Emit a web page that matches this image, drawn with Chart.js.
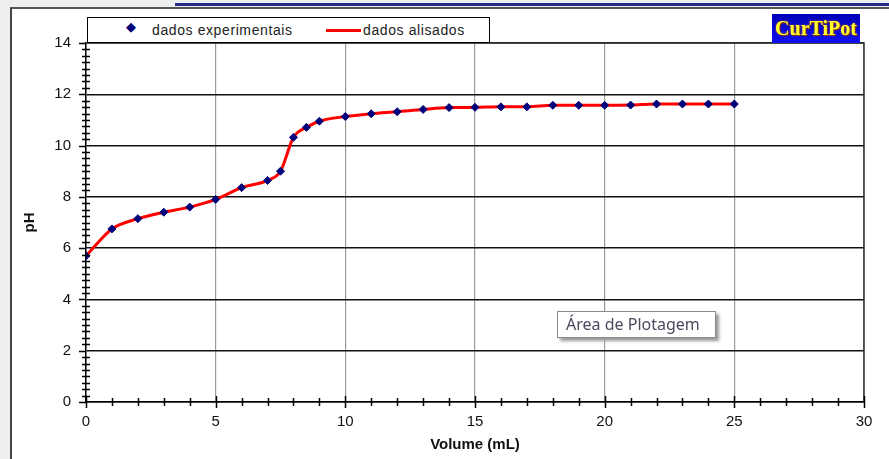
<!DOCTYPE html>
<html lang="pt">
<head>
    <meta charset="UTF-8">
    <title>Curva de titulação</title>
    <script src="https://cdn.jsdelivr.net/npm/chart.js@4.4.0/dist/chart.umd.min.js"></script>
    <style>
        body{
            margin: 0;
            background-color: #eef0f0;
            font-family: "Liberation Sans", Arial, sans-serif;
        }
        .quadro{
            position: relative;
            width: 889px;
            height: 459px;
            overflow: hidden;
        }
        .barra{
            position: absolute;
            left: 175px;
            top: 3px;
            width: 714px;
            height: 3px;
            background-color: #2a2a88;
        }
        .moldura{
            position: absolute;
            left: 10px;
            top: 7px;
            width: 879px;
            height: 452px;
            background-color: #fff;
            border-left: 2px solid #444;
            border-top: 2px solid #555;
            box-sizing: border-box;
        }
        #grafico{
            position: absolute;
            left: 0;
            top: 0;
        }
        .legenda{
            position: absolute;
            left: 87px;
            top: 17px;
            width: 403px;
            height: 26px;
            border: 1px solid #000;
            box-sizing: border-box;
            background: #fff;
            font-size: 14px;
            letter-spacing: 0.6px;
            color: #222;
        }
        .legenda span{
            position: absolute;
            top: 4px;
            white-space: nowrap;
        }
        .logo{
            position: absolute;
            left: 772px;
            top: 14px;
            width: 88px;
            height: 29px;
            background: linear-gradient(#0000b8, #1010f0);
            color: #ffff30;
            font-family: "Liberation Serif", serif;
            font-weight: bold;
            font-size: 20px;
            line-height: 29px;
            text-align: center;
            text-shadow: 0 0 2px #d06000, 1px 1px 0 #803000;
        }
        .dica{
            position: absolute;
            left: 557px;
            top: 311px;
            width: 159px;
            height: 27px;
            border: 1px solid #8a8a8a;
            box-sizing: border-box;
            background: #fff;
            box-shadow: 3px 3px 3px #999;
            font-family: "Noto Sans", sans-serif;
            font-size: 16px;
            line-height: 24px;
            padding-left: 8px;
            color: #4a4a5e;
        }
    </style>
</head>
<body>
<div class="quadro">
    <div class="barra"></div>
    <div class="moldura"></div>
    <canvas id="grafico" width="889" height="459"></canvas>
    <div class="legenda" id="legenda"></div>
    <div class="logo">CurTiPot</div>
    <div class="dica">Área de Plotagem</div>
</div>
<script>
    // volume de titulante (mL) e pH medido
    var volumes = [0, 1, 2, 3, 4, 5, 6, 7, 7.5, 8, 8.5, 9, 10, 11, 12, 13, 14, 15, 16, 17, 18, 19, 20, 21, 22, 23, 24, 25];
    var phExperimental = [5.70, 6.75, 7.15, 7.40, 7.60, 7.90, 8.36, 8.64, 9.00, 10.32, 10.71, 10.95, 11.13, 11.24, 11.32, 11.41, 11.48, 11.49, 11.51, 11.51, 11.57, 11.57, 11.57, 11.58, 11.62, 11.62, 11.62, 11.62];
    var phAlisado = [5.70, 6.75, 7.15, 7.40, 7.60, 7.90, 8.36, 8.64, 9.00, 10.32, 10.71, 10.95, 11.13, 11.24, 11.32, 11.41, 11.48, 11.49, 11.51, 11.51, 11.57, 11.57, 11.57, 11.58, 11.62, 11.62, 11.62, 11.62];
    var xTicks = [0, 5, 10, 15, 20, 25, 30];
    var yTicks = [0, 2, 4, 6, 8, 10, 12, 14];

    var corPonto = '#00007a';
    var corLinha = '#ff0000';

    function pontos(xs, ys) {
        return xs.map(function(x, i) { return {x: x, y: ys[i]}; });
    }

    // marcas de escala (maiores e menores) e borda da área de plotagem
    var marcas = {
        id: 'marcas',
        beforeDatasetsDraw: function(chart) {
            var ctx = chart.ctx;
            var a = chart.chartArea;
            ctx.save();
            ctx.strokeStyle = '#333';
            ctx.lineWidth = 1.5;
            ctx.beginPath();
            ctx.moveTo(a.left, a.top);
            ctx.lineTo(a.right, a.top);
            ctx.lineTo(a.right, a.bottom);
            ctx.stroke();
            ctx.restore();
        },
        afterDraw: function(chart) {
            var ctx = chart.ctx;
            var a = chart.chartArea;
            var sx = chart.scales.x;
            var sy = chart.scales.y;
            ctx.save();
            ctx.strokeStyle = '#000';
            ctx.lineWidth = 1.5;
            ctx.beginPath();
            for (var v = 0; v <= 14; v += 0.25) {
                var py = Math.round(sy.getPixelForValue(v)) + 0.5;
                if (v % 2 === 0) {
                    ctx.moveTo(a.left - 7, py);
                    ctx.lineTo(a.left, py);
                } else {
                    ctx.moveTo(a.left - 4, py);
                    ctx.lineTo(a.left + 4, py);
                }
            }
            for (var u = 0; u <= 30; u += 1) {
                var px = Math.round(sx.getPixelForValue(u)) + 0.5;
                if (u % 5 === 0) {
                    ctx.moveTo(px, a.bottom - 6);
                    ctx.lineTo(px, a.bottom + 6);
                } else {
                    ctx.moveTo(px, a.bottom - 4);
                    ctx.lineTo(px, a.bottom + 4);
                }
            }
            ctx.stroke();
            ctx.restore();
        }
    };

    var ctx = document.getElementById('grafico').getContext('2d');
    var grafico = new Chart(ctx, {
        type: 'scatter',
        data: {
            datasets: [{
                label: 'dados experimentais',
                data: pontos(volumes, phExperimental),
                showLine: false,
                pointStyle: 'rectRot',
                pointRadius: 4,
                backgroundColor: corPonto,
                borderColor: corPonto,
                borderWidth: 1
            }, {
                label: 'dados alisados',
                data: pontos(volumes, phAlisado),
                showLine: true,
                pointRadius: 0,
                borderColor: corLinha,
                backgroundColor: corLinha,
                borderWidth: 3,
                cubicInterpolationMode: 'monotone'
            }]
        },
        options: {
            responsive: false,
            animation: false,
            layout: {
                padding: {left: 0, right: 25, top: 43, bottom: 0}
            },
            plugins: {
                legend: {display: false},
                tooltip: {enabled: false}
            },
            scales: {
                x: {
                    type: 'linear',
                    min: 0,
                    max: 30,
                    afterBuildTicks: function(scale) {
                        scale.ticks = xTicks.map(function(v) { return {value: v}; });
                    },
                    afterFit: function(scale) { scale.height = 57; },
                    grid: {color: '#9a9a9a', lineWidth: 1.2, drawTicks: false},
                    border: {color: '#000', width: 1.5},
                    ticks: {
                        padding: 11,
                        color: '#111',
                        font: {family: '"Liberation Sans", Arial', size: 15},
                        maxRotation: 0
                    },
                    title: {
                        display: true,
                        text: 'Volume (mL)',
                        color: '#111',
                        font: {family: '"Liberation Sans", Arial', size: 15, weight: 'bold'},
                        padding: {top: 0, bottom: 5}
                    }
                },
                y: {
                    type: 'linear',
                    min: 0,
                    max: 14,
                    afterBuildTicks: function(scale) {
                        scale.ticks = yTicks.map(function(v) { return {value: v}; });
                    },
                    afterFit: function(scale) { scale.width = 86; },
                    grid: {color: '#111', lineWidth: 1.5, drawTicks: false},
                    border: {color: '#000', width: 1.5},
                    ticks: {
                        padding: 15,
                        color: '#111',
                        font: {family: '"Liberation Sans", Arial', size: 15}
                    },
                    title: {
                        display: true,
                        text: 'pH',
                        color: '#111',
                        font: {family: '"Liberation Sans", Arial', size: 15, weight: 'bold'},
                        padding: {top: 21, bottom: 0}
                    }
                }
            }
        },
        plugins: [marcas]
    });

    // legenda em caixa, montada a partir das séries
    var legenda = document.getElementById('legenda');
    var conjuntos = grafico.data.datasets;
    legenda.innerHTML =
        '<span style="left:38px;top:1px;color:' + conjuntos[0].backgroundColor + ';font-size:13px">&#9670;</span>' +
        '<span style="left:64px">' + conjuntos[0].label + '</span>' +
        '<span style="left:238px;top:11px;width:35px;height:3px;background:' + conjuntos[1].borderColor + '"></span>' +
        '<span style="left:275px">' + conjuntos[1].label + '</span>';
</script>
</body>
</html>
